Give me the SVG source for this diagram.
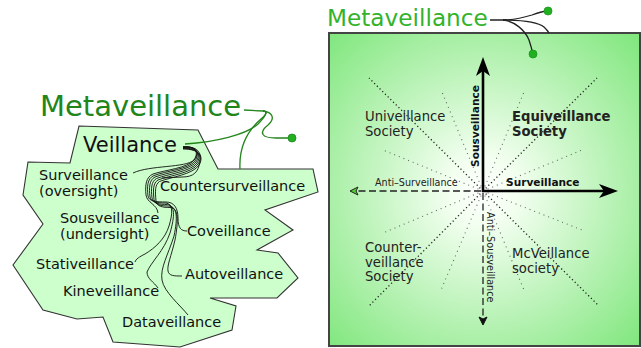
<svg xmlns="http://www.w3.org/2000/svg" width="641" height="348" viewBox="0 0 641 348">
<style>
text{font-family:"DejaVu Sans","Liberation Sans",sans-serif;fill:#111}
.lbl{font-size:14.5px}
.soc{font-size:13.2px;fill:#222}
.bold{font-weight:bold}
.conn{fill:none;stroke:#111;stroke-width:0.9}
.gconn{fill:none;stroke:#22851a;stroke-width:1.3}
.rconn{fill:none;stroke:#222;stroke-width:1.3}
.dot45{fill:none;stroke:#222;stroke-width:1.3;stroke-dasharray:1.2,2.6}
.dotx{fill:none;stroke:#666;stroke-width:1.1;stroke-dasharray:1,4}
.dash{fill:none;stroke:#222;stroke-width:1.3;stroke-dasharray:7,3.5}
</style>
<defs>
<radialGradient id="bg" gradientUnits="userSpaceOnUse" cx="483" cy="191" r="225">
<stop offset="0" stop-color="#ffffff"/>
<stop offset="0.15" stop-color="#f3fff0"/>
<stop offset="1" stop-color="#7de67a"/>
</radialGradient>
</defs>

<!-- Left panel -->
<g id="veillance-region">
<polygon points="79,126 198,130 218,169 313,169 318,192 265,210 293,230 257,250 278,253 298,278 277,298 210,298 236,306 232,330 180,347 113,342 103,317 77,319 43,310 13,265 43,224 23,195 28,162 70,163" fill="#ccffcc" stroke="#333" stroke-width="1.1"/>
</g>

<g id="left-connectors">
<path class="gconn" d="M244,110 L263,111"/>
<path class="gconn" d="M263,111 C272,112 276,118 268,125 C258,133 262,138 276,138 L292,138"/>
<path class="gconn" d="M185,144 C215,142 246,135 258,124 C266,116 268,111 263,111"/>
<path class="gconn" d="M240,169 C239,150 246,132 261,119 C267,114 268,111 263,111"/>
<path class="conn" d="M183,147 C197,146 200,153 194,160 C186,168 150,165 133,173"/>
<path class="conn" d="M183,147 C197,146 202,152 200,162 C198,172 194,177 182,177 L162,178"/>
<path class="conn" d="M183,147 C196,146 199,152 194,160 C188,168 165,170 153,174 C146,177 145,185 146,195 C147,203 157,204 158,213"/>
<path class="conn" d="M183,147 C197,146 200,153 195,161 C189,169 166,171 154,175.5 C147,178.5 147,187 148,196 C149,201.5 156,202 166,202 C174,202 178,208 178,218 C178,228 181,231 187,231"/>
<path class="conn" d="M183,147.5 C198,147 201,154 196,162 C190,170 167,172.5 155,177 C149,180 149,188 150,197 C151,202 157,203 166,203 C173,204 173,213 169,226 C165,239 155,248 145,254 C139,257 136,259 135,262"/>
<path class="conn" d="M183,148 C198,148 202,155 197,163 C191,171.5 168,174 156.5,178.5 C151,181.5 151,189 152,198 C153,203.5 159,204.5 167.5,204.5 C175,205 175,216 170,233 C164,251 151,262 147,272 C147,279 154,282 158,288"/>
<path class="conn" d="M183,148.5 C199,148.5 203,156 198,164 C192,173 169.5,175.5 158,180 C153,183 153,190 154,199.5 C155,205 161,206 169,206 C177,207 178,217 174,236 C168,255 160,268 162,280 C164,292 180,305 188,315"/>
<path class="conn" d="M183,149 C200,149 204,156.5 199,165 C193,174.5 171,177 159.5,181.5 C155,184.5 155,191 156,201 C157,206.5 162,207.5 171,207.5 C178.5,208.5 178.5,221 175,240 C171,257 167,265 168,271 C169,276 174,276 182,276"/>
</g>
<circle cx="292" cy="138" r="4" fill="#22b022" stroke="#1a8a1a" stroke-width="0.8"/>

<g id="metaveillance-left"><text x="40" y="116" style="font-size:29px;fill:#22851a">Metaveillance</text></g>
<g id="veillance"><text x="83" y="152" style="font-size:21px">Veillance</text></g>
<g id="surveillance"><text class="lbl" x="39" y="180">Surveillance</text><text class="lbl" x="39" y="196">(oversight)</text></g>
<g id="countersurveillance"><text class="lbl" x="160" y="191">Countersurveillance</text></g>
<g id="sousveillance"><text class="lbl" x="60" y="223">Sousveillance</text><text class="lbl" x="60" y="239">(undersight)</text></g>
<g id="coveillance"><text class="lbl" x="187" y="236">Coveillance</text></g>
<g id="stativeillance"><text class="lbl" x="36" y="269">Stativeillance</text></g>
<g id="autoveillance"><text class="lbl" x="185" y="279">Autoveillance</text></g>
<g id="kineveillance"><text class="lbl" x="63" y="296">Kineveillance</text></g>
<g id="dataveillance"><text class="lbl" x="122" y="327">Dataveillance</text></g>

<!-- Right panel -->
<g id="quadrant-box">
<rect x="329" y="33" width="311" height="313" fill="url(#bg)" stroke="#444" stroke-width="2"/>
</g>
<g id="right-connectors">
<path class="rconn" d="M490,20 L503,20 C515,20 522,18 532,15 C540,12 544,11 548,11"/>
<path class="rconn" d="M503,20 C520,20 538,22 544,27 C547,30 548,31 549,33"/>
<path class="rconn" d="M503,20 C514,21 525,30 529,40 C531,46 532,50 533,54"/>
<line class="dot45" x1="483" y1="191" x2="369" y2="78"/>
<line class="dot45" x1="483" y1="191" x2="597" y2="78"/>
<line class="dot45" x1="483" y1="191" x2="369" y2="306"/>
<line class="dot45" x1="483" y1="191" x2="598" y2="305"/>
<line class="dotx" x1="483" y1="191" x2="442" y2="92"/>
<line class="dotx" x1="483" y1="191" x2="383" y2="150"/>
<line class="dotx" x1="483" y1="191" x2="524" y2="92"/>
<line class="dotx" x1="483" y1="191" x2="582" y2="150"/>
<line class="dotx" x1="483" y1="191" x2="441" y2="290"/>
<line class="dotx" x1="483" y1="191" x2="383" y2="233"/>
<line class="dotx" x1="483" y1="191" x2="524" y2="290"/>
<line class="dotx" x1="483" y1="191" x2="582" y2="230"/>
<line class="dash" x1="481" y1="191" x2="357" y2="191"/>
<polygon points="350,191 358,187 356,191 358,195" fill="#55cc33" stroke="#222" stroke-width="1"/>
<line class="dash" x1="483" y1="193" x2="483" y2="318"/>
<polygon points="483,325 479,317 483,319 487,317" fill="#111" stroke="#111" stroke-width="1"/>
<line x1="483" y1="192" x2="483" y2="68" stroke="#000" stroke-width="2.6"/>
<polygon points="483,57 490,76 483,71 476,76" fill="#000"/>
<line x1="482" y1="191" x2="607" y2="191" stroke="#000" stroke-width="2.6"/>
<polygon points="618,191 599,198 604,191 599,184" fill="#000"/>
</g>
<circle cx="548" cy="11" r="4" fill="#22b022" stroke="#1a9a1a" stroke-width="0.8"/>
<circle cx="533" cy="54" r="4" fill="#22b022" stroke="#1a9a1a" stroke-width="0.8"/>

<g id="metaveillance-right"><text x="327" y="26" style="font-size:23.2px;fill:#33b32b">Metaveillance</text></g>
<g id="univeillance"><text class="soc" x="365" y="121">Univeillance</text><text class="soc" x="365" y="136">Society</text></g>
<g id="equiveillance"><text class="soc bold" x="512" y="121">Equiveillance</text><text class="soc bold" x="512" y="136">Society</text></g>
<g id="counterveillance"><text class="soc" x="365" y="252">Counter-</text><text class="soc" x="365" y="266.5">veillance</text><text class="soc" x="365" y="281">Society</text></g>
<g id="mcveillance"><text class="soc" x="512" y="258">McVeillance</text><text class="soc" x="512" y="273">society</text></g>
<g id="axis-labels">
<text class="bold" x="506" y="186" style="font-size:10.6px;fill:#111">Surveillance</text>
<text class="bold" transform="translate(479,167) rotate(-90)" style="font-size:10.6px;fill:#111">Sousveillance</text>
<text x="375" y="186" style="font-size:9.6px;fill:#222">Anti–Surveillance</text>
<text transform="translate(486.5,212) rotate(90)" style="font-size:9.7px;fill:#222">Anti–Sousveillance</text>
</g>
</svg>
